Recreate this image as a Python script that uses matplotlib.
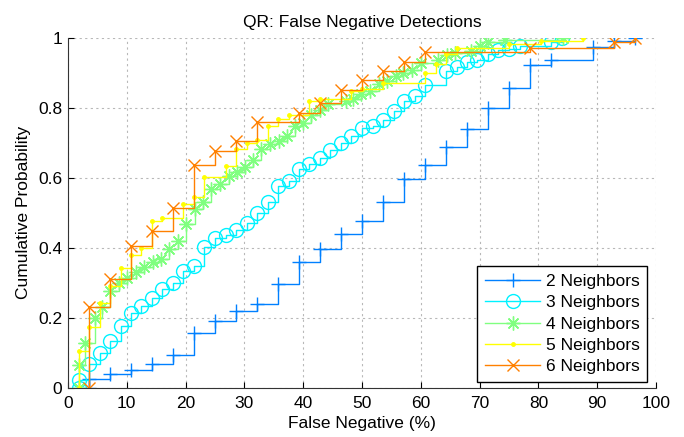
import numpy as np
import matplotlib
matplotlib.use("Agg")
import matplotlib.pyplot as plt

plt.rcParams['font.family'] = ['Liberation Sans', 'DejaVu Sans']

# x = false negative (%), f = cumulative probability (stairs, steps-post)
x2 = [3.57, 3.57, 7.14, 10.71, 14.29, 17.86, 21.43, 25.0, 28.57, 32.14, 35.71,
      39.29, 42.86, 46.43, 50.0, 53.57, 57.14, 60.71, 64.29, 67.86, 71.43,
      75.0, 78.57, 82.14, 89.29, 92.86, 96.43]
f2 = [0, 0.026, 0.04, 0.052, 0.069, 0.095, 0.158, 0.19, 0.22, 0.239, 0.296,
      0.36, 0.398, 0.44, 0.478, 0.53, 0.598, 0.636, 0.689, 0.739, 0.80,
      0.857, 0.921, 0.9375, 0.973, 0.99, 1.0]

x3 = [1.79, 1.79, 3.57, 5.36, 7.14, 8.93, 10.71, 12.5, 14.29, 16.07, 17.86,
      19.64, 21.43, 23.21, 25.0, 26.79, 28.57, 30.36, 32.14, 33.93, 35.71,
      37.5, 39.29, 41.07, 42.86, 44.64, 46.43, 48.21, 50.0, 51.79, 53.57,
      55.36, 57.14, 58.93, 60.71, 64.29, 66.07, 67.86, 69.64, 71.43, 73.21,
      75.0, 76.79, 82.14, 83.93]
f3 = [0, 0.022, 0.069, 0.099, 0.133, 0.178, 0.213, 0.235, 0.258, 0.282, 0.30,
      0.333, 0.348, 0.402, 0.428, 0.436, 0.45, 0.472, 0.50, 0.53, 0.578,
      0.592, 0.625, 0.639, 0.658, 0.68, 0.70, 0.72, 0.743, 0.748, 0.765,
      0.79, 0.819, 0.835, 0.865, 0.905, 0.915, 0.93, 0.937, 0.954, 0.964,
      0.969, 0.975, 0.987, 1.0]

x4 = [1.79, 1.79, 2.9, 4.6, 5.8, 7.2, 8.7, 10.1, 11.6, 13.0, 14.5, 15.9, 17.2,
      18.7, 20.1, 21.6, 23.0, 24.4, 25.9, 27.3, 28.7, 30.1, 31.5, 32.9, 34.4,
      35.8, 37.2, 38.6, 40.0, 41.4, 42.9, 44.3, 47.2, 48.5, 49.9, 51.4, 52.9,
      54.2, 55.7, 57.0, 58.5, 60.0, 62.9, 64.4, 65.8, 68.6, 70.0, 71.5, 74.3,
      84.1]
f4 = [0, 0.066, 0.13, 0.20, 0.232, 0.277, 0.30, 0.314, 0.331, 0.346, 0.36,
      0.367, 0.398, 0.421, 0.469, 0.511, 0.53, 0.568, 0.582, 0.606, 0.616,
      0.63, 0.651, 0.682, 0.696, 0.706, 0.72, 0.748, 0.757, 0.778, 0.795,
      0.81, 0.818, 0.826, 0.84, 0.849, 0.869, 0.877, 0.892, 0.90, 0.909,
      0.928, 0.937, 0.952, 0.955, 0.961, 0.975, 0.987, 0.993, 1.0]

x5 = [1.79, 1.79, 3.57, 5.36, 7.14, 8.93, 10.71, 12.5, 14.29, 16.07, 19.64,
      21.43, 23.21, 26.79, 28.57, 30.36, 32.14, 33.93, 35.71, 37.5, 41.07,
      42.86, 48.21, 50.0, 53.57, 60.71, 62.5, 64.29, 66.07, 75.0, 80.36, 87.5]
f5 = [0, 0.107, 0.175, 0.244, 0.29, 0.342, 0.379, 0.40, 0.476, 0.486, 0.525,
      0.544, 0.603, 0.635, 0.682, 0.70, 0.709, 0.748, 0.768, 0.778, 0.82,
      0.824, 0.848, 0.854, 0.871, 0.90, 0.924, 0.953, 0.971, 0.982, 0.992,
      1.0]

x6 = [3.57, 3.57, 7.14, 10.71, 14.29, 17.86, 21.43, 25.0, 28.57, 32.14, 39.29,
      42.86, 46.43, 50.0, 53.57, 57.14, 60.71, 78.57, 92.86, 96.43]
f6 = [0, 0.232, 0.3125, 0.406, 0.447, 0.514, 0.637, 0.677, 0.705, 0.758,
      0.786, 0.8125, 0.85, 0.878, 0.905, 0.932, 0.96, 0.972, 0.989, 1.0]

# marker, colour, size, label
series = [
    (x2, f2, '+', (0.0, 0.5, 1.0), 10, "2 Neighbors"),
    (x3, f3, 'o', (0.0, 0.95, 1.0), 10, "3 Neighbors"),
    (x4, f4, (8, 2, 0), (0.5, 1.0, 0.5), 10, "4 Neighbors"),
    (x5, f5, '.', (1.0, 1.0, 0.0), 5, "5 Neighbors"),
    (x6, f6, 'x', (1.0, 0.5, 0.0), 8, "6 Neighbors"),
]

FS = 12.5

fig = plt.figure(figsize=(6.84, 4.37), dpi=100)
ax = fig.add_axes([0.0994, 0.112, 0.8597, 0.8017])

for xs, fs, mk, col, ms, lab in series:
    ax.plot(xs, fs, drawstyle='steps-post', marker=mk, color=col, lw=1.0,
            ms=ms, mfc='none' if mk == 'o' else col, mew=1.0, label=lab)

ax.set_xlim(0, 100)
ax.set_ylim(0, 1)
ax.set_xticks(np.arange(0, 101, 10))
ax.set_yticks([0, 0.2, 0.4, 0.6, 0.8, 1])
ax.set_yticklabels(["0", "0.2", "0.4", "0.6", "0.8", "1"])
ax.tick_params(direction='in', labelsize=FS, length=4, width=0.8)
ax.tick_params(axis='x', pad=6)
ax.tick_params(axis='y', pad=4)
ax.grid(True, color='#b8b8b8', linestyle=(0, (2, 3)), lw=0.8)
ax.spines['top'].set_visible(False)
ax.spines['right'].set_visible(False)
ax.spines['left'].set_color('#333333')
ax.spines['bottom'].set_color('#333333')

ax.set_title("QR: False Negative Detections", fontsize=FS, pad=8)
ax.set_xlabel("False Negative (%)", fontsize=FS, labelpad=3)
ax.set_ylabel("Cumulative Probability", fontsize=FS, labelpad=5)

leg = ax.legend(loc='lower right', fontsize=FS, fancybox=False, framealpha=1,
                edgecolor='black', handlelength=3.2, handletextpad=0.3,
                borderpad=0.44, labelspacing=0.36, borderaxespad=0,
                bbox_to_anchor=(0.985, 0.017))
leg.get_frame().set_linewidth(1.0)

fig.savefig("out.png", dpi=100)
